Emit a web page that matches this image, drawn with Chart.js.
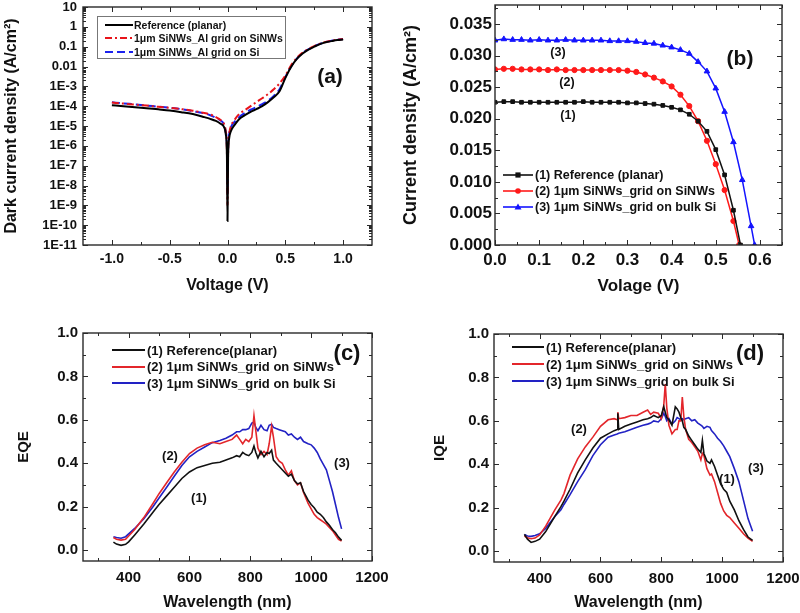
<!DOCTYPE html>
<html><head><meta charset="utf-8">
<script src="https://cdn.jsdelivr.net/npm/chart.js@4.4.1/dist/chart.umd.min.js"></script>
<style>
body{margin:0;background:#fff;font-family:"Liberation Sans",Arial,sans-serif;}
#wrap{position:relative;width:800px;height:613px;overflow:hidden;background:#fff;}
canvas{position:absolute;}
.lab{position:absolute;font-weight:bold;color:#111;transform:translate(-50%,-50%);white-space:nowrap;line-height:1;}
.leg{position:absolute;font-weight:bold;color:#111;white-space:nowrap;}
.row{position:absolute;display:flex;align-items:center;}
.row svg{flex:none;}
</style></head>
<body>
<div id="wrap">
  <canvas id="ca" width="400" height="300" style="left:0;top:0"></canvas>
  <canvas id="cb" width="400" height="300" style="left:400px;top:0"></canvas>
  <canvas id="cc" width="400" height="313" style="left:0;top:300px"></canvas>
  <canvas id="cd" width="400" height="313" style="left:400px;top:300px"></canvas>

  <div class="lab" style="left:330px;top:75px;font-size:21px">(a)</div>
  <div class="lab" style="left:740px;top:57px;font-size:21px">(b)</div>
  <div class="lab" style="left:558px;top:52px;font-size:12.5px">(3)</div>
  <div class="lab" style="left:567px;top:82px;font-size:12.5px">(2)</div>
  <div class="lab" style="left:568px;top:115px;font-size:12.5px">(1)</div>
  <div class="lab" style="left:347px;top:353px;font-size:22px">(c)</div>
  <div class="lab" style="left:170px;top:455px;font-size:13px">(2)</div>
  <div class="lab" style="left:199px;top:497px;font-size:13px">(1)</div>
  <div class="lab" style="left:342px;top:462px;font-size:13px">(3)</div>
  <div class="lab" style="left:750px;top:353px;font-size:22px">(d)</div>
  <div class="lab" style="left:579px;top:428px;font-size:13px">(2)</div>
  <div class="lab" style="left:727px;top:478px;font-size:13px">(1)</div>
  <div class="lab" style="left:756px;top:467px;font-size:13px">(3)</div>

  <div id="legA" class="leg" style="left:97px;top:16px;width:187px;height:41px;border:1px solid #777;font-size:10.5px"></div>
  <div id="legB" class="leg" style="left:500px;top:166px;width:230px;height:50px;font-size:12.5px"></div>
  <div id="legC" class="leg" style="left:110px;top:341px;width:240px;height:52px;font-size:13px"></div>
  <div id="legD" class="leg" style="left:510px;top:338px;width:240px;height:52px;font-size:13px"></div>
</div>
<script>
// ---------------- (a) dark J-V ----------------
const V_A = [-1.0,-0.9,-0.8,-0.7,-0.6,-0.5,-0.4,-0.3,-0.2,-0.15,-0.1,-0.06,-0.03,-0.015,-0.005,0,0.005,0.015,0.03,0.06,0.1,0.15,0.2,0.25,0.3,0.35,0.4,0.45,0.5,0.55,0.6,0.65,0.7,0.75,0.8,0.85,0.9,0.95,1.0];
const JD_REF = [1.12e-4,1.0e-4,8.9e-5,7.9e-5,6.9e-5,6.0e-5,5.0e-5,4.0e-5,2.8e-5,2.3e-5,1.8e-5,1.3e-5,8.9e-6,4.0e-6,3.2e-7,1.6e-10,2.5e-7,2.5e-6,5.6e-6,1.1e-5,2.2e-5,3.5e-5,5.2e-5,7.1e-5,1.0e-4,1.6e-4,2.8e-4,5.6e-4,2.6e-3,9.5e-3,2.4e-2,4.5e-2,7.1e-2,0.10,0.135,0.166,0.19,0.214,0.229];
const JD_NW = [1.51e-4,1.35e-4,1.2e-4,1.07e-4,9.3e-5,8.3e-5,7.1e-5,5.9e-5,4.5e-5,3.8e-5,2.8e-5,2.0e-5,1.26e-5,5.0e-6,5.0e-7,1.0e-9,4.0e-7,4.0e-6,1.0e-5,2.0e-5,4.0e-5,6.3e-5,1.0e-4,1.6e-4,2.5e-4,4.0e-4,7.1e-4,1.4e-3,3.5e-3,1.15e-2,2.7e-2,5.0e-2,7.6e-2,0.107,0.141,0.174,0.2,0.224,0.24];
const JD_SI = [1.58e-4,1.38e-4,1.23e-4,1.07e-4,9.5e-5,8.3e-5,7.1e-5,5.6e-5,4.3e-5,3.5e-5,2.6e-5,1.9e-5,1.2e-5,5.0e-6,1.0e-6,4.0e-9,6.3e-7,4.0e-6,8.9e-6,1.6e-5,2.8e-5,4.5e-5,6.6e-5,8.9e-5,1.26e-4,1.9e-4,3.3e-4,7.1e-4,2.9e-3,1.0e-2,2.5e-2,4.8e-2,7.4e-2,0.105,0.138,0.17,0.2,0.224,0.24];
const NAMES_A = ['Reference (planar)','1\u03bcm SiNWs_Al grid on SiNWs','1\u03bcm SiNWs_Al grid on Si'];
const XT_A = [-1.0,-0.5,0.0,0.5,1.0];
const YT_A = [1e-11,1e-10,1e-9,1e-8,1e-7,1e-6,1e-5,1e-4,1e-3,1e-2,1e-1,1,10];
const YL_A = ['1E-11','1E-10','1E-9','1E-8','1E-7','1E-6','1E-5','1E-4','1E-3','0.01','0.1','1','10'];

// ---------------- (b) light J-V ----------------
const V_REF = [0,0.02,0.04,0.06,0.08,0.10,0.12,0.14,0.16,0.18,0.20,0.22,0.24,0.26,0.28,0.30,0.32,0.34,0.36,0.38,0.40,0.42,0.44,0.46,0.48,0.50,0.52,0.54,0.556];
const J_REF = [0.0226,0.0227,0.0227,0.0226,0.0226,0.0226,0.0226,0.0226,0.0226,0.0226,0.0227,0.0226,0.0226,0.0226,0.0226,0.0225,0.0225,0.0224,0.0223,0.0221,0.0218,0.0214,0.0207,0.0196,0.0180,0.0151,0.0111,0.0055,0.0];
const V_NW = [0,0.02,0.04,0.06,0.08,0.10,0.12,0.14,0.16,0.18,0.20,0.22,0.24,0.26,0.28,0.30,0.32,0.34,0.36,0.38,0.40,0.42,0.44,0.46,0.48,0.50,0.52,0.54,0.553];
const J_NW = [0.0278,0.0279,0.0279,0.0278,0.0278,0.0278,0.0277,0.0278,0.0277,0.0277,0.0277,0.0277,0.0277,0.0277,0.0277,0.0276,0.0274,0.0270,0.0265,0.0259,0.0251,0.0238,0.0220,0.0196,0.0165,0.0128,0.0087,0.0038,0.0];
const V_SI = [0,0.02,0.04,0.06,0.08,0.10,0.12,0.14,0.16,0.18,0.20,0.22,0.24,0.26,0.28,0.30,0.32,0.34,0.36,0.38,0.40,0.42,0.44,0.46,0.48,0.50,0.52,0.54,0.56,0.58,0.588];
const J_SI = [0.0324,0.0326,0.0325,0.0325,0.0324,0.0325,0.0324,0.0324,0.0325,0.0324,0.0324,0.0324,0.0324,0.0323,0.0323,0.0323,0.0322,0.0320,0.0319,0.0316,0.0313,0.0309,0.0303,0.0290,0.0275,0.0248,0.0211,0.0163,0.0103,0.0030,0.0];
const NAMES_B = ['(1) Reference (planar)','(2) 1\u03bcm SiNWs_grid on SiNWs','(3) 1\u03bcm SiNWs_grid on bulk Si'];
const XT_B = [0,0.1,0.2,0.3,0.4,0.5,0.6];
const YT_B = [0,0.005,0.010,0.015,0.020,0.025,0.030,0.035];

// ---------------- (c) EQE ----------------
const WL_C = [350,360,375,390,400,420,450,480,500,525,550,575,600,625,650,675,700,720,740,755,765,775,785,795,805,812,818,825,835,845,855,862,870,876,885,895,905,915,925,935,945,955,965,975,990,1000,1010,1020,1030,1040,1050,1060,1070,1080,1090,1100];
const EQE_REF = [0.037,0.028,0.022,0.027,0.038,0.07,0.12,0.175,0.21,0.25,0.29,0.33,0.36,0.38,0.39,0.40,0.405,0.415,0.425,0.435,0.43,0.45,0.44,0.435,0.45,0.48,0.45,0.425,0.455,0.43,0.45,0.445,0.46,0.415,0.40,0.385,0.37,0.355,0.34,0.35,0.32,0.305,0.31,0.27,0.23,0.21,0.195,0.175,0.165,0.15,0.13,0.115,0.095,0.08,0.06,0.045];
const EQE_NW = [0.058,0.05,0.046,0.05,0.065,0.095,0.15,0.215,0.26,0.31,0.36,0.405,0.445,0.47,0.485,0.497,0.49,0.50,0.51,0.53,0.51,0.49,0.51,0.50,0.52,0.62,0.55,0.47,0.44,0.455,0.44,0.49,0.57,0.52,0.43,0.41,0.40,0.37,0.345,0.365,0.32,0.30,0.31,0.265,0.215,0.19,0.165,0.15,0.14,0.13,0.12,0.105,0.09,0.07,0.05,0.042];
const EQE_SI = [0.062,0.058,0.055,0.062,0.075,0.1,0.145,0.2,0.24,0.29,0.34,0.39,0.43,0.455,0.475,0.495,0.505,0.515,0.53,0.545,0.545,0.555,0.555,0.56,0.585,0.59,0.565,0.55,0.575,0.555,0.55,0.575,0.58,0.565,0.56,0.555,0.55,0.545,0.53,0.535,0.52,0.51,0.52,0.50,0.49,0.485,0.47,0.45,0.42,0.395,0.37,0.32,0.27,0.21,0.15,0.098];
const NAMES_C = ['(1) Reference(planar)','(2) 1\u03bcm SiNWs_grid on SiNWs','(3) 1\u03bcm SiNWs_grid on bulk Si'];

// ---------------- (d) IQE ----------------
const WL_D = [350,360,372,385,400,420,450,470,480,500,525,550,575,600,625,645,655,657,660,680,700,720,740,755,765,775,790,800,808,813,818,825,835,846,852,858,864,869,874,880,890,900,910,920,930,935,940,950,960,965,975,985,995,1005,1015,1025,1040,1055,1070,1085,1100];
const IQE_REF = [0.077,0.055,0.04,0.045,0.055,0.09,0.16,0.205,0.23,0.285,0.36,0.42,0.475,0.52,0.54,0.555,0.56,0.635,0.56,0.575,0.585,0.595,0.605,0.61,0.615,0.625,0.615,0.625,0.665,0.64,0.615,0.605,0.58,0.665,0.655,0.64,0.615,0.60,0.57,0.56,0.53,0.51,0.49,0.47,0.455,0.51,0.45,0.415,0.405,0.42,0.39,0.35,0.31,0.285,0.27,0.23,0.19,0.14,0.10,0.065,0.05];
const IQE_NW = [0.07,0.062,0.057,0.06,0.075,0.115,0.19,0.235,0.265,0.35,0.425,0.48,0.525,0.575,0.605,0.61,0.605,0.64,0.61,0.615,0.625,0.625,0.64,0.65,0.63,0.64,0.635,0.61,0.67,0.77,0.66,0.58,0.54,0.56,0.56,0.6,0.6,0.71,0.62,0.56,0.515,0.5,0.48,0.46,0.42,0.45,0.44,0.38,0.35,0.355,0.32,0.27,0.22,0.185,0.165,0.155,0.13,0.105,0.08,0.06,0.045];
const IQE_SI = [0.077,0.07,0.068,0.072,0.08,0.105,0.16,0.19,0.215,0.26,0.32,0.375,0.44,0.49,0.525,0.535,0.54,0.54,0.543,0.55,0.56,0.57,0.58,0.585,0.59,0.60,0.595,0.61,0.635,0.62,0.60,0.61,0.585,0.6,0.615,0.61,0.605,0.61,0.605,0.61,0.615,0.60,0.605,0.59,0.58,0.575,0.565,0.575,0.57,0.555,0.54,0.52,0.505,0.485,0.46,0.435,0.38,0.32,0.235,0.15,0.092];
const XT_CD = [400,600,800,1000,1200];
const YT_CD = [0,0.2,0.4,0.6,0.8,1.0];

// ---------------- helpers ----------------
const FONT = '"Liberation Sans", Arial, sans-serif';
Chart.defaults.font.family = FONT;
Chart.defaults.color = '#111';
const bf = s => ({family: FONT, size: s, weight: 'bold'});
const pts = (xs, ys) => xs.map((x, i) => ({x, y: ys[i]}));
const fit = size => s => {
  if (s.isHorizontal()) s.height = size; else s.width = size;
  s.paddingTop = 0; s.paddingBottom = 0; s.paddingLeft = 0; s.paddingRight = 0;
};
const setTicks = arr => s => { s.ticks = arr.map(v => ({value: v})); };

const frame = {
  id: 'frame',
  afterDraw(chart, args, o) {
    const {ctx, chartArea: a, scales} = chart;
    const xs = scales.x, ys = scales.y;
    ctx.save();
    ctx.strokeStyle = '#2a2a2a';
    ctx.lineWidth = 1;
    const seg = (x1, y1, x2, y2) => { ctx.beginPath(); ctx.moveTo(x1, y1); ctx.lineTo(x2, y2); ctx.stroke(); };
    const doX = (vals, len) => vals.forEach(v => {
      const p = Math.round(xs.getPixelForValue(v)) + 0.5;
      if (p < a.left - 0.5 || p > a.right + 0.5) return;
      seg(p, a.bottom, p, a.bottom - len); seg(p, a.top, p, a.top + len);
    });
    const doY = (vals, len) => vals.forEach(v => {
      const p = Math.round(ys.getPixelForValue(v)) + 0.5;
      if (p < a.top - 0.5 || p > a.bottom + 0.5) return;
      seg(a.left, p, a.left + len, p); seg(a.right, p, a.right - len, p);
    });
    doX(xs.ticks.map(t => t.value), 5);
    doY(ys.ticks.map(t => t.value), 5);
    doX(o.xMinor || [], 3);
    doY(o.yMinor || [], 3);
    ctx.lineWidth = 1.4;
    ctx.strokeRect(a.left, a.top, a.right - a.left, a.bottom - a.top);
    ctx.restore();
  }
};

function baseOpts(pad) {
  return {responsive: false, animation: false, events: [], devicePixelRatio: 1,
    layout: {padding: pad},
    plugins: {legend: {display: false}, tooltip: {enabled: false}}};
}
const noGrid = {display: false, drawTicks: false};

// log minor ticks
const LOG_MINOR = [];
for (let k = -11; k <= 0; k++) for (let m = 2; m <= 9; m++) LOG_MINOR.push(m * Math.pow(10, k));

// ---------- chart (a) ----------
const oa = baseOpts({left: 0, right: 28, top: 7, bottom: 0});
oa.plugins.frame = {xMinor: [-0.75, -0.25, 0.25, 0.75], yMinor: LOG_MINOR};
oa.scales = {
  x: {type: 'linear', min: -1.25, max: 1.25, afterBuildTicks: setTicks(XT_A), afterFit: fit(55),
      grid: noGrid, border: {display: false},
      ticks: {font: bf(14), padding: 6, maxRotation: 0, autoSkip: false, callback: v => v.toFixed(1)},
      title: {display: true, text: 'Voltage (V)', font: bf(16), padding: {top: 0, bottom: 5}}},
  y: {type: 'logarithmic', min: 1e-11, max: 10, afterBuildTicks: setTicks(YT_A), afterFit: fit(83),
      grid: noGrid, border: {display: false},
      ticks: {font: bf(13), padding: 6, autoSkip: false, callback: (v, i) => YL_A[i]},
      title: {display: true, text: 'Dark current density (A/cm\u00b2)', font: bf(16), padding: {top: 1.5, bottom: 0}}}
};
const lineA = {pointRadius: 0, borderWidth: 2, fill: false, cubicInterpolationMode: 'monotone'};
new Chart(document.getElementById('ca'), {
  type: 'line',
  data: {datasets: [
    Object.assign({label: NAMES_A[0], data: pts(V_A, JD_REF), borderColor: '#000'}, lineA),
    Object.assign({label: NAMES_A[1], data: pts(V_A, JD_NW), borderColor: '#e8141a', borderDash: [7, 3, 2, 3]}, lineA),
    Object.assign({label: NAMES_A[2], data: pts(V_A, JD_SI), borderColor: '#1c22ee', borderDash: [8, 4]}, lineA)
  ]},
  options: oa, plugins: [frame]
});

// ---------- chart (b) ----------
const ob = baseOpts({left: 0, right: 18, top: 5, bottom: 0});
ob.plugins.frame = {xMinor: [0.05, 0.15, 0.25, 0.35, 0.45, 0.55, 0.65], yMinor: [0.0025, 0.0075, 0.0125, 0.0175, 0.0225, 0.0275, 0.0325, 0.0375]};
ob.scales = {
  x: {type: 'linear', min: 0, max: 0.65, afterBuildTicks: setTicks(XT_B), afterFit: fit(55),
      grid: noGrid, border: {display: false},
      ticks: {font: bf(17), padding: 5, maxRotation: 0, autoSkip: false, callback: v => v.toFixed(1)},
      title: {display: true, text: 'Volage (V)', font: bf(17), padding: {top: 0, bottom: 3}}},
  y: {type: 'linear', min: 0, max: 0.038, afterBuildTicks: setTicks(YT_B), afterFit: fit(95),
      grid: noGrid, border: {display: false},
      ticks: {font: bf(17), padding: 3, autoSkip: false, callback: v => v.toFixed(3)},
      title: {display: true, text: 'Current density (A/cm\u00b2)', font: bf(18), padding: {top: 0, bottom: 0}}}
};
const lineB = {borderWidth: 1.5, pointRadius: 2.6, pointBorderWidth: 1, fill: false, tension: 0};
const COL_B = ['#111111', '#ff1a1a', '#1414ff'];
const STY_B = ['rect', 'circle', 'triangle'];
new Chart(document.getElementById('cb'), {
  type: 'line',
  data: {datasets: [
    Object.assign({label: NAMES_B[0], data: pts(V_REF, J_REF), borderColor: COL_B[0], backgroundColor: COL_B[0], pointStyle: STY_B[0]}, lineB),
    Object.assign({label: NAMES_B[1], data: pts(V_NW, J_NW), borderColor: COL_B[1], backgroundColor: COL_B[1], pointStyle: STY_B[1]}, lineB),
    Object.assign({label: NAMES_B[2], data: pts(V_SI, J_SI), borderColor: COL_B[2], backgroundColor: COL_B[2], pointStyle: STY_B[2]}, lineB, {pointRadius: 3.2})
  ]},
  options: ob, plugins: [frame]
});

// ---------- charts (c), (d) ----------
const COL_CD = ['#111111', '#e3262b', '#2222c4'];
function specChart(id, wl, series, names, yTitle, pad, yW, xH, yTitlePad) {
  const o = baseOpts(pad);
  o.plugins.frame = {xMinor: [300, 500, 700, 900, 1100], yMinor: [0.1, 0.3, 0.5, 0.7, 0.9]};
  o.scales = {
    x: {type: 'linear', min: 250, max: 1200, afterBuildTicks: setTicks(XT_CD), afterFit: fit(xH),
        grid: noGrid, border: {display: false},
        ticks: {font: bf(15), padding: 8, maxRotation: 0, autoSkip: false, callback: v => String(v)},
        title: {display: true, text: 'Wavelength (nm)', font: bf(16), padding: {top: 0, bottom: 1}}},
    y: {type: 'linear', min: -0.05, max: 1.0, afterBuildTicks: setTicks(YT_CD), afterFit: fit(yW),
        grid: noGrid, border: {display: false},
        ticks: {font: bf(15), padding: 5, autoSkip: false, callback: v => v.toFixed(1)},
        title: {display: true, text: yTitle, font: bf(15), padding: {top: yTitlePad, bottom: 0}}}
  };
  new Chart(document.getElementById(id), {
    type: 'line',
    data: {datasets: series.map((s, i) => ({label: names[i], data: pts(wl, s), borderColor: COL_CD[i],
      borderWidth: 1.6, pointRadius: 0, fill: false, tension: 0}))},
    options: o, plugins: [frame]
  });
}
specChart('cc', WL_C, [EQE_REF, EQE_NW, EQE_SI], NAMES_C, 'EQE', {left: 0, right: 28, top: 33, bottom: 0}, 83, 52, 15);
specChart('cd', WL_D, [IQE_REF, IQE_NW, IQE_SI], NAMES_C, 'IQE', {left: 0, right: 17, top: 34, bottom: 0}, 94, 51, 31);

// ---------- HTML legends ----------
function sym(w, color, dash, marker, lw) {
  const cy = 6;
  let s = `<svg width="${w}" height="12" viewBox="0 0 ${w} 12"><line x1="0" y1="${cy}" x2="${w}" y2="${cy}" stroke="${color}" stroke-width="${lw}"${dash ? ` stroke-dasharray="${dash}"` : ''}/>`;
  const mx = w / 2;
  if (marker === 'rect') s += `<rect x="${mx - 2.6}" y="${cy - 2.6}" width="5.2" height="5.2" fill="${color}"/>`;
  if (marker === 'circle') s += `<circle cx="${mx}" cy="${cy}" r="2.8" fill="${color}"/>`;
  if (marker === 'triangle') s += `<polygon points="${mx},${cy - 3.5} ${mx + 3.5},${cy + 2.6} ${mx - 3.5},${cy + 2.6}" fill="${color}"/>`;
  return s + '</svg>';
}
function legend(id, names, items, o) {
  const el = document.getElementById(id);
  names.forEach((n, i) => {
    const r = document.createElement('div');
    r.className = 'row';
    r.style.left = o.left + 'px';
    r.style.top = (o.top + i * o.step - 6) + 'px';
    r.style.height = '12px';
    r.innerHTML = sym(o.w, items[i].c, items[i].d, items[i].m, o.lw) + `<span style="margin-left:${o.gap}px">${n}</span>`;
    el.appendChild(r);
  });
}
legend('legA', NAMES_A, [{c: '#000'}, {c: '#e8141a', d: '7 3 2 3'}, {c: '#1c22ee', d: '8 4'}],
  {left: 7, top: 7.5, step: 13.5, w: 28, lw: 2, gap: 1});
legend('legB', NAMES_B, [{c: COL_B[0], m: 'rect'}, {c: COL_B[1], m: 'circle'}, {c: COL_B[2], m: 'triangle'}],
  {left: 3, top: 9, step: 16, w: 30, lw: 1.6, gap: 2});
legend('legC', NAMES_C, [{c: COL_CD[0]}, {c: COL_CD[1]}, {c: COL_CD[2]}],
  {left: 2, top: 9, step: 16.5, w: 33, lw: 2, gap: 2});
legend('legD', NAMES_C, [{c: COL_CD[0]}, {c: COL_CD[1]}, {c: COL_CD[2]}],
  {left: 2, top: 9, step: 17, w: 32, lw: 2, gap: 2});
</script>
</body></html>
